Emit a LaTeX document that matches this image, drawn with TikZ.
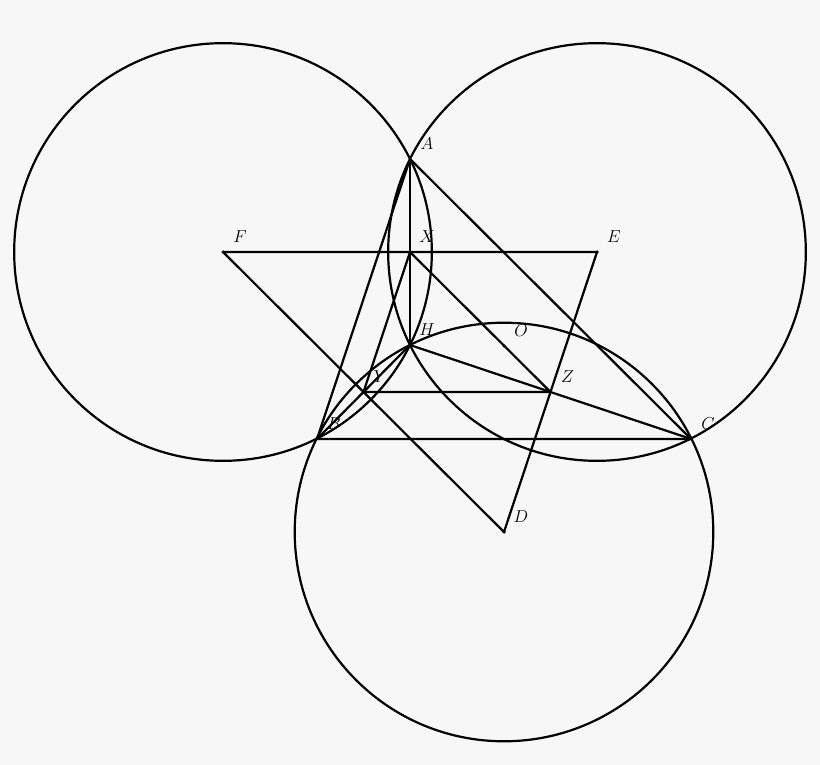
\documentclass[tikz,border=0pt]{standalone}
\usetikzlibrary{calc}
\definecolor{bg}{HTML}{F7F7F7}
\tikzset{
  geo/.style={line width=2.2pt, line cap=round, line join=round},
  ptlabel/.style={font=\fontsize{18}{20}\selectfont, inner sep=0pt},
  ptdot/.style={fill=black, circle, inner sep=0pt, minimum size=3.5pt}
}
\begin{document}
\begin{tikzpicture}[x=1pt,y=-1pt]
\fill[bg] (0,0) rectangle (820,765);
\useasboundingbox (0,0) rectangle (820,765);
% triangle and derived points
\coordinate (O) at (504,346);
\coordinate (A) at (410,159);
\coordinate (B) at (317,439);
\coordinate (C) at (691,439);
\coordinate (H) at ($(A)+(B)+(C)-2*(O)$);
\coordinate (D) at ($(B)+(C)-(O)$);
\coordinate (E) at ($(A)+(C)-(O)$);
\coordinate (F) at ($(A)+(B)-(O)$);
\coordinate (X) at ($(E)!0.5!(F)$);
\coordinate (Y) at ($(F)!0.5!(D)$);
\coordinate (Z) at ($(D)!0.5!(E)$);
% Johnson circles
\foreach \c in {D,E,F}{
  \draw[geo] let \p1=($(H)-(\c)$), \n1={veclen(\x1,\y1)} in (\c) circle (\n1);
}
% segments
\draw[geo] (A) -- (B) -- (C) -- cycle;
\draw[geo] (A) -- (H);
\draw[geo] (H) -- (B);
\draw[geo] (H) -- (C);
\draw[geo] (F) -- (E) -- (D) -- cycle;
\draw[geo] (X) -- (Y) -- (Z) -- cycle;
% dots
\foreach \p in {O,D,E,F}{ \node[ptdot] (dot\p) at (\p) {}; }
% labels
\foreach \p in {A,B,C,D,E,F,H,O,X,Y,Z}{
  \node[ptlabel] (lab\p) at ($(\p)+(17,-15)$) {$\p$};
}
\end{tikzpicture}
\end{document}
